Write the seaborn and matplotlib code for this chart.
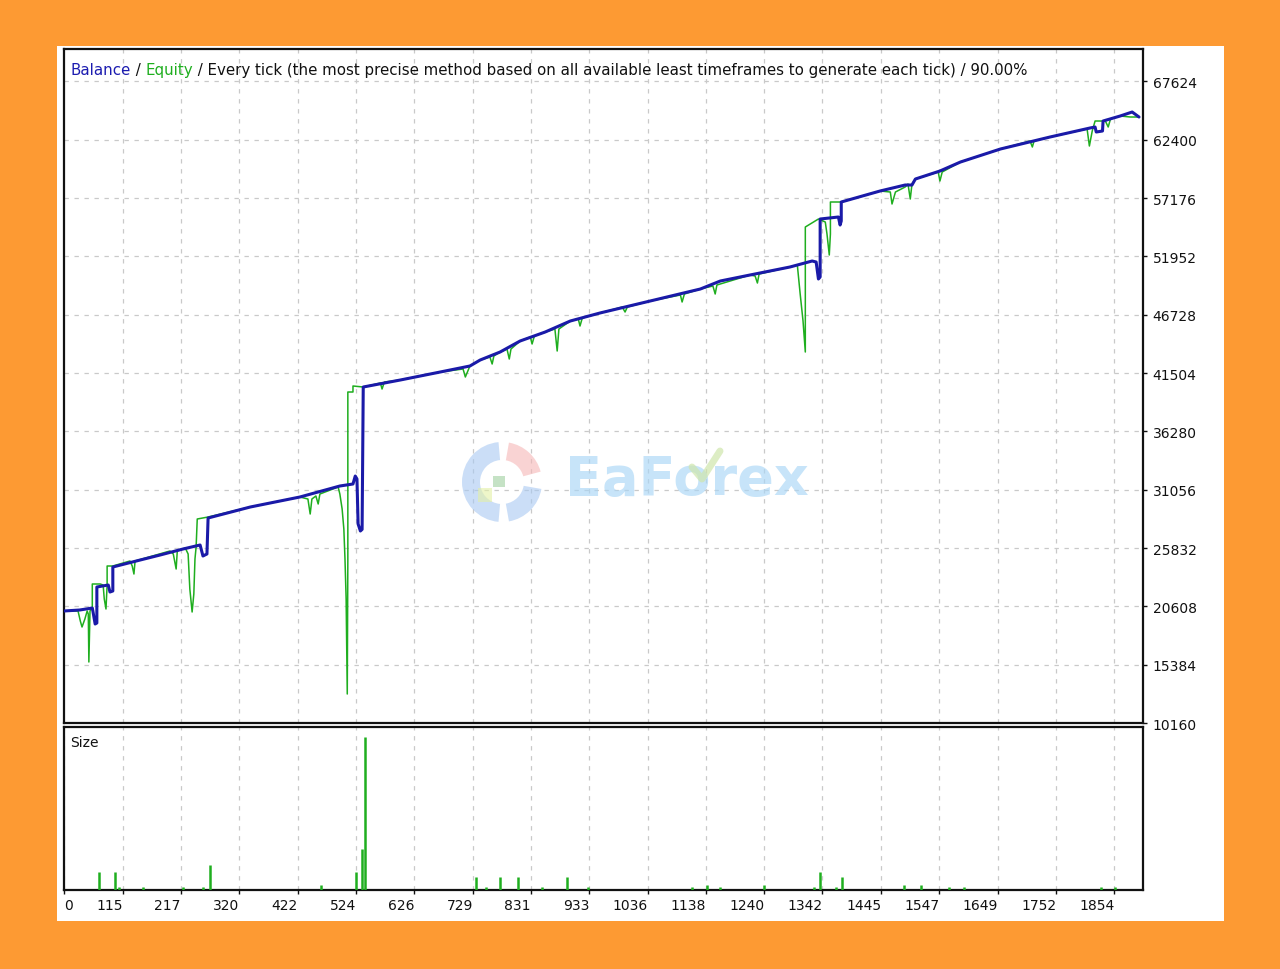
import matplotlib
matplotlib.use("Agg")
import matplotlib.pyplot as plt
import seaborn as sns
from matplotlib.patches import Rectangle, Wedge
from matplotlib.lines import Line2D
from matplotlib.transforms import IdentityTransform

# ---------------- data ----------------
balance_x = [12, 40, 62, 63, 67, 70, 70, 90, 93, 98, 98, 146, 181, 221, 251, 256, 263, 265,
             339, 426, 496, 519, 523, 526, 528, 532, 535, 537, 602, 672, 724, 742, 777, 812,
             856, 900, 952, 1040, 1128, 1163, 1215, 1285, 1324, 1331, 1335, 1338, 1338, 1370,
             1373, 1375, 1375, 1443, 1487, 1499, 1505, 1548, 1584, 1654, 1741, 1811, 1820,
             1822, 1833, 1834, 1864, 1885, 1897]
balance_y = [20191, 20280, 20459, 20191, 19026, 19116, 22340, 22519, 21892, 21982, 24131, 24758,
             25206, 25743, 26102, 25117, 25296, 28520, 29505, 30401, 31386, 31565, 32281, 32013,
             27982, 27356, 27500, 40252, 40879, 41596, 42133, 42670, 43387, 44372, 45178, 46163,
             46880, 47954, 49029, 49746, 50283, 50999, 51537, 51447, 49925, 50104, 55298, 55477,
             54761, 55119, 56821, 57806, 58343, 58343, 58881, 59597, 60403, 61567, 62642, 63448,
             63538, 63090, 63180, 64075, 64523, 64881, 64433]

equity_x = [12, 37, 41, 44, 49, 53, 55, 56, 58, 60, 62, 62, 76, 81, 83, 86, 88, 88, 98, 128,
            132, 135, 137, 198, 204, 209, 211, 225, 230, 233, 237, 240, 242, 244, 246, 265, 339,
            426, 440, 444, 447, 454, 458, 461, 493, 496, 500, 503, 505, 507, 509, 510, 510, 519,
            519, 537, 567, 570, 574, 602, 672, 712, 716, 721, 724, 742, 759, 763, 766, 777, 789,
            793, 796, 812, 830, 833, 837, 856, 873, 877, 880, 900, 914, 917, 921, 952, 991, 996,
            1000, 1040, 1093, 1096, 1100, 1128, 1150, 1154, 1157, 1215, 1224, 1228, 1231, 1285,
            1298, 1303, 1308, 1312, 1312, 1335, 1347, 1350, 1354, 1356, 1356, 1375, 1443, 1461,
            1464, 1470, 1487, 1492, 1496, 1499, 1505, 1545, 1548, 1552, 1584, 1654, 1706, 1710,
            1713, 1741, 1806, 1810, 1815, 1820, 1838, 1843, 1847, 1864, 1882, 1897]
equity_y = [20191, 20191, 19295, 18758, 19474, 20191, 19922, 15623, 20191, 20370, 20370, 22609,
            22609, 22519, 21265, 20370, 22519, 24221, 24221, 24669, 24221, 23504, 24669, 25564,
            25296, 23952, 25564, 25833, 25296, 22161, 20101, 21713, 24848, 25923, 28430, 28609,
            29505, 30401, 30221, 28878, 30221, 30490, 29774, 30669, 31296, 30669, 29326, 27535,
            24848, 21265, 12757, 24848, 39804, 39804, 40342, 40252, 40610, 40073, 40700, 40879,
            41596, 41864, 41148, 41775, 42133, 42670, 42939, 42312, 43029, 43387, 43655, 42760,
            43655, 44372, 44730, 44103, 44820, 45178, 45447, 43476, 45447, 46163, 46342, 45715,
            46432, 46880, 47417, 46969, 47417, 47954, 48492, 47865, 48581, 49029, 49298, 48581,
            49387, 50283, 50193, 49566, 50372, 50999, 51178, 48581, 46163, 43387, 54582, 55298,
            55030, 53955, 52074, 53955, 56821, 56821, 57806, 57716, 56642, 57716, 58164, 58433,
            57089, 58433, 58881, 59508, 58702, 59508, 60403, 61567, 62284, 61747, 62284, 62642,
            63359, 61836, 63180, 64075, 64075, 63538, 64254, 64523, 64433, 64433]

size_x = [73, 102, 109, 151, 221, 256, 268, 463, 524, 535, 540, 735, 752, 777, 809, 851, 894,
          931, 1114, 1140, 1163, 1240, 1327, 1337, 1366, 1377, 1485, 1515, 1564, 1590, 1830, 1855]
size_lots = [0.7, 0.7, 0.1, 0.1, 0.1, 0.1, 1.0, 0.2, 0.7, 1.6, 6.0, 0.5, 0.1, 0.5, 0.5, 0.1,
             0.5, 0.1, 0.1, 0.2, 0.1, 0.2, 0.1, 0.7, 0.1, 0.5, 0.2, 0.2, 0.1, 0.1, 0.1, 0.1]

y_ticks = [10160, 15384, 20608, 25832, 31056, 36280, 41504, 46728, 51952, 57176, 62400, 67624]
x_ticks = [115, 217, 320, 422, 524, 626, 729, 831, 933, 1036, 1138, 1240, 1342, 1445, 1547,
           1649, 1752, 1854]
x_first_label = "0"

header_parts = [("Balance", "#1c1cb0"), (" / ", "#111111"), ("Equity", "#1fae1f"),
                (" / Every tick (the most precise method based on all available least timeframes "
                 "to generate each tick) / 90.00%", "#111111")]

# ---------------- styling ----------------
sns.set_theme(style="white")
plt.rcParams['font.family'] = ['DejaVu Sans']

W, H = 1280, 970
fig = plt.figure(figsize=(W / 100, H / 100), dpi=100, facecolor='#FD9A33')
fig.patches.append(Rectangle((57 / W, 1 - 922 / H), 1167 / W, 875 / H, transform=fig.transFigure,
                             facecolor='white', edgecolor='none', zorder=-5))

XL = (12.4, 1904)
ax = fig.add_axes([64 / W, 1 - 724 / H, (1143 - 64) / W, (724 - 50) / H])
ax2 = fig.add_axes([64 / W, 1 - 891 / H, (1143 - 64) / W, (891 - 728) / H])

grid_kw = dict(color='#c9c9c9', linestyle=(0, (3.5, 4.5)), linewidth=0.9)

for a in (ax, ax2):
    a.set_facecolor('white')
    for s in a.spines.values():
        s.set_color('#111111')
        s.set_linewidth(1.6)
    a.set_xlim(*XL)

# main chart
sns.lineplot(x=equity_x, y=equity_y, sort=False, estimator=None, color='#1fae1f',
             linewidth=1.1, ax=ax, zorder=3)
sns.lineplot(x=balance_x, y=balance_y, sort=False, estimator=None, color='#1a1aa8',
             linewidth=2.2, ax=ax, zorder=4)
ax.set_ylim(10160, 70524)
ax.yaxis.tick_right()
ax.set_yticks(y_ticks)
ax.set_yticklabels([str(v) for v in y_ticks])
ax.tick_params(axis='y', which='both', right=True, length=3, width=1, color='#111111',
               labelsize=10, labelcolor='#111111', pad=4)
ax.set_xticks(x_ticks)
ax.set_xticklabels([])
ax.tick_params(axis='x', length=0)
ax.grid(True, **grid_kw)
ax.set_axisbelow(True)
ax.set_xlabel('')
ax.set_ylabel('')

# size panel
ax2.vlines(size_x, 0, size_lots, color='#1fae1f', linewidth=1.8, zorder=3)
ax2.set_ylim(0, 6.4)
ax2.set_yticks([])
ax2.set_xticks([XL[0]] + x_ticks)
ax2.set_xticklabels([x_first_label] + [str(v) for v in x_ticks])
ax2.tick_params(axis='x', bottom=True, length=3, width=1, color='#111111', labelsize=10,
                labelcolor='#111111', pad=3)
for i, lab in enumerate(ax2.get_xticklabels()):
    lab.set_ha('left' if i == 0 else 'right')
ax2.grid(True, axis='x', **grid_kw)
ax2.set_axisbelow(True)
ax2.text(0.006, 0.905, "Size", transform=ax2.transAxes, va='center', ha='left',
         fontsize=10, color='#111111')

# header text (multi-coloured)
renderer = fig.canvas.get_renderer()
xpos = 71
for s, c in header_parts:
    t = fig.text(xpos / W, 1 - 75 / H, s, color=c, fontsize=10.8, va='baseline', ha='left')
    xpos += t.get_window_extent(renderer).width

# watermark
idt = IdentityTransform()
wm_alpha = 0.6
cx, cy = 502, H - 483
fig.patches.append(Wedge((cx, cy), 40, 95, 265, width=18, transform=idt,
                         facecolor='#a9c9f2', edgecolor='none', alpha=wm_alpha, zorder=5))
fig.patches.append(Wedge((cx, cy), 40, 15, 80, width=18, transform=idt,
                         facecolor='#f6b7b7', edgecolor='none', alpha=wm_alpha, zorder=5))
fig.patches.append(Wedge((cx, cy), 40, 280, 350, width=18, transform=idt,
                         facecolor='#a9c9f2', edgecolor='none', alpha=wm_alpha, zorder=5))
fig.patches.append(Rectangle((493, H - 488), 12, 11, transform=idt,
                             facecolor='#9fcf9f', edgecolor='none', alpha=wm_alpha, zorder=5))
fig.patches.append(Rectangle((478, H - 503), 14, 14, transform=idt,
                             facecolor='#e3f0a6', edgecolor='none', alpha=wm_alpha, zorder=5))
fig.text(687 / W, 1 - 480 / H, "EaForex", fontsize=39, fontweight='bold', color='#a9d6f6',
         alpha=0.65, ha='center', va='center', zorder=5)
fig.lines.append(Line2D([692, 702, 720], [H - 468, H - 480, H - 452], transform=idt,
                        color='#cfe6ac', linewidth=5, alpha=0.7, zorder=6))

fig.savefig('out.png', dpi=100, facecolor=fig.get_facecolor())
